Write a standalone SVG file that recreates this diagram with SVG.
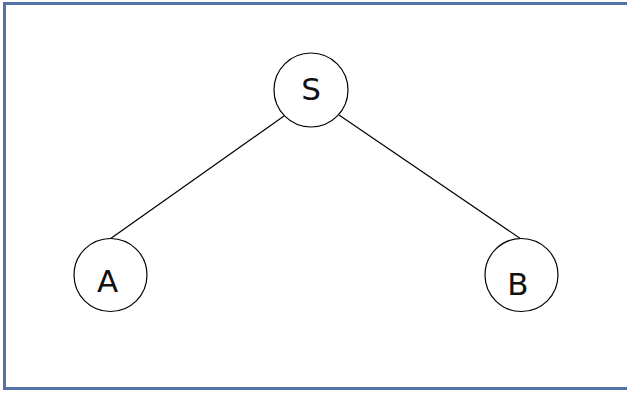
<svg xmlns="http://www.w3.org/2000/svg" width="627" height="393" viewBox="0 0 627 393">
<style>
.node circle{fill:#ffffff;stroke:#000000;stroke-width:1.2}
.node text{font-family:"DejaVu Sans","Liberation Sans",sans-serif;font-size:31px;fill:#111111;text-anchor:middle}
.edge{stroke:#000000;stroke-width:1.2;fill:none}
</style>
<rect x="0" y="0" width="627" height="393" fill="#ffffff"/>
<rect x="4.5" y="3.5" width="626" height="385" fill="none" stroke="#5470a6" stroke-width="3"/>
<g id="connectors">
<line class="edge" x1="284" y1="116" x2="110" y2="239"/>
<line class="edge" x1="339" y1="115" x2="521" y2="239"/>
</g>
<g id="node-S" class="node">
<circle cx="311" cy="90" r="37"/>
<text x="311" y="100">S</text>
</g>
<g id="node-A" class="node">
<circle cx="110.5" cy="275" r="36.5"/>
<text x="107.5" y="292">A</text>
</g>
<g id="node-B" class="node">
<circle cx="521.5" cy="275" r="36.5"/>
<text x="518" y="295">B</text>
</g>
</svg>
